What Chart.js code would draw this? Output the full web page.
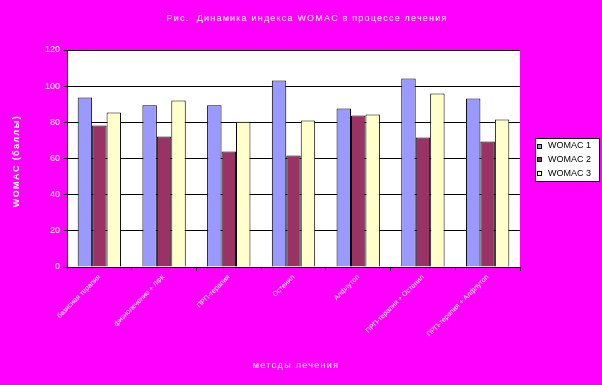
<!DOCTYPE html>
<html><head><meta charset="utf-8">
<script src="https://cdn.jsdelivr.net/npm/chart.js@4/dist/chart.umd.min.js"></script>
<style>html,body{margin:0;padding:0;background:#FF00FF}#w{width:602px;height:385px}</style>
</head><body><div id="w"><canvas id="c" width="602" height="385"></canvas></div>
<script>
const categories = ["базисная терапия", "физиолечение + ЛФК", "ПРП-терапия", "Остенил", "Алфлутоп", "ПРП-терапия + Остенил", "ПРП-терапия + Алфлутоп"];
const seriesNames = ["WOMAC 1", "WOMAC 2", "WOMAC 3"];
const womac1 = [93.8, 89.4, 89.4, 103.2, 87.7, 104.3, 93.2];
const womac2 = [78.3, 72.2, 63.9, 61.7, 83.8, 71.6, 69.4];
const womac3 = [85.5, 92.1, 80.3, 81.0, 84.4, 96.0, 81.6];
const yTicks = [0, 20, 40, 60, 80, 100, 120];
const colors = ["#9999FF", "#993366", "#FFFFCC"];
const titleText = "Рис.  Динамика индекса WOMAC в процессе лечения";
const yTitle = "WOMAC (баллы)";
const xTitle = "методы лечения";

const CA = {left: 67, top: 50, right: 520, bottom: 267};

const deco = {
  id: 'deco',
  beforeDraw(chart) {
    const ctx = chart.ctx, a = chart.chartArea;
    ctx.save();
    ctx.fillStyle = '#FF00FF';
    ctx.fillRect(0, 0, chart.width, chart.height);
    ctx.fillStyle = '#FFFFFF';
    ctx.fillRect(a.left, a.top, a.right - a.left, a.bottom - a.top);
    ctx.restore();
  },
  afterDraw(chart) {
    const ctx = chart.ctx;
    ctx.save();
    ctx.fillStyle = '#FFFFFF';
    ctx.textAlign = 'center';
    ctx.textBaseline = 'middle';
    ctx.font = '9px "Liberation Sans", Arial, sans-serif';
    ctx.letterSpacing = '1.2px';
    ctx.fillText(titleText, 307, 19);
    ctx.letterSpacing = '1.3px';
    ctx.fillText(xTitle, 296, 366);
    ctx.save();
    ctx.translate(17, 161);
    ctx.rotate(-Math.PI / 2);
    ctx.font = 'bold 9px "Liberation Sans", Arial, sans-serif';
    ctx.letterSpacing = '1.4px';
    ctx.fillText(yTitle, 0, 0);
    ctx.restore();
    ctx.letterSpacing = '0px';
    // legend
    const lx = 535, ly = 138, lw = 65, lh = 44;
    ctx.fillStyle = '#FFFFFF';
    ctx.fillRect(lx, ly, lw, lh);
    ctx.strokeStyle = '#000000';
    ctx.lineWidth = 1;
    ctx.strokeRect(lx + 0.5, ly + 0.5, lw - 1, lh - 1);
    ctx.font = '9px "Liberation Sans", Arial, sans-serif';
    ctx.textAlign = 'left';
    seriesNames.forEach((n, i) => {
      const y = 145.5 + i * 13.7;
      ctx.fillStyle = colors[i];
      ctx.fillRect(537, Math.round(y) - 2, 5, 5);
      ctx.strokeStyle = '#000';
      ctx.strokeRect(537.5, Math.round(y) - 1.5, 4, 4);
      ctx.fillStyle = '#000';
      ctx.fillText(n, 548, y + 0.5);
    });
    ctx.restore();
  }
};

new Chart(document.getElementById('c'), {
  type: 'bar',
  data: {
    labels: categories,
    datasets: [womac1, womac2, womac3].map((d, i) => ({
      label: seriesNames[i], data: d,
      backgroundColor: colors[i], borderColor: '#000000', borderWidth: 1,
      barPercentage: 1.0, categoryPercentage: 0.67
    }))
  },
  options: {
    responsive: false, animation: false,
    layout: {padding: {left: 0, top: CA.top, right: 602 - CA.right, bottom: 0}},
    plugins: {legend: {display: false}, title: {display: false}, tooltip: {enabled: false}},
    scales: {
      x: {
        offset: true,
        afterFit(s) { s.height = 385 - CA.bottom; },
        grid: {offset: true, drawOnChartArea: false, color: '#000', tickLength: 4, lineWidth: 1},
        border: {color: '#000', width: 1},
        ticks: {color: '#FFFFFF', minRotation: 45, maxRotation: 45, autoSkip: false, padding: 2,
          font: {size: 7, family: '"Liberation Sans", Arial, sans-serif'}}
      },
      y: {
        min: 0, max: 120,
        afterFit(s) { s.width = CA.left; },
        afterBuildTicks(s) { s.ticks = yTicks.map(v => ({value: v})); },
        grid: {color: '#000', lineWidth: 1, tickLength: 4},
        border: {color: '#000', width: 1},
        ticks: {color: '#FFFFFF', padding: 3, font: {size: 9, family: '"Liberation Sans", Arial, sans-serif'}}
      }
    }
  },
  plugins: [deco]
});
</script>
</body></html>
